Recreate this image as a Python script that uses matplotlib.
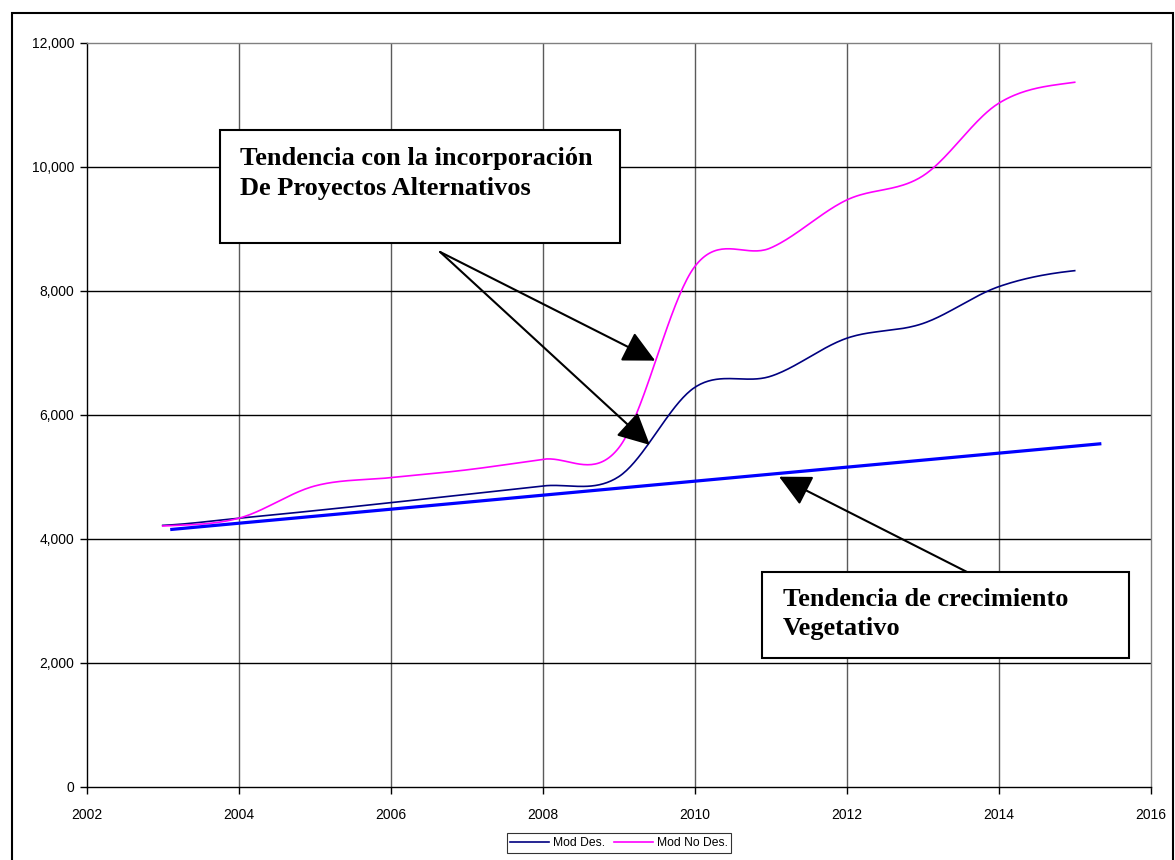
import numpy as np
import matplotlib.pyplot as plt
from matplotlib.patches import Rectangle

years = [2003, 2004, 2005, 2006, 2007, 2008, 2009, 2010, 2011, 2012, 2013, 2014, 2015]
mod_des = [4215, 4330, 4452, 4581, 4716, 4850, 5000, 6440, 6620, 7233, 7470, 8065, 8323]
mod_no_des = [4205, 4330, 4850, 4985, 5110, 5281, 5464, 8388, 8690, 9463, 9850, 11023, 11362]
trend_years = [2003.12, 2015.33]
trend_vals = [4150, 5530]

x_ticks = [2002, 2004, 2006, 2008, 2010, 2012, 2014, 2016]
y_ticks = [0, 2000, 4000, 6000, 8000, 10000, 12000]


def smooth(xs, ys, n=40):
    # catmull-rom like excel smoothed lines
    xs = np.array(xs, dtype=float)
    ys = np.array(ys, dtype=float)
    k = len(xs)
    m = np.zeros(k)
    for i in range(k):
        if i == 0:
            m[i] = (ys[1] - ys[0]) / 2
        elif i == k - 1:
            m[i] = (ys[-1] - ys[-2]) / 2
        else:
            m[i] = (ys[i + 1] - ys[i - 1]) / 2
    outx = []
    outy = []
    for i in range(k - 1):
        t = np.linspace(0, 1, n)
        h00 = 2 * t**3 - 3 * t**2 + 1
        h10 = t**3 - 2 * t**2 + t
        h01 = -2 * t**3 + 3 * t**2
        h11 = t**3 - t**2
        outx.extend(xs[i] + t * (xs[i + 1] - xs[i]))
        outy.extend(h00 * ys[i] + h10 * m[i] + h01 * ys[i + 1] + h11 * m[i + 1])
    return outx, outy


W, H = 1175, 860
fig = plt.figure(figsize=(W / 100, H / 100), dpi=100)
plt.rcParams['font.family'] = ['Liberation Sans', 'DejaVu Sans']


def fx(px):
    return px / W


def fy(py):
    return 1 - py / H


ax = fig.add_axes([fx(86.7), fy(786.7), fx(1150.7) - fx(86.7), fy(42.7) - fy(786.7)])

sx, sy = smooth(years, mod_des)
ax.plot(sx, sy, color='#000080', lw=1.2, label='Mod Des.', zorder=3)
sx, sy = smooth(years, mod_no_des)
ax.plot(sx, sy, color='#FF00FF', lw=1.2, label='Mod No Des.', zorder=3)
ax.plot(trend_years, trend_vals, color='#0000FF', lw=2.3, zorder=3)

ax.set_xlim(2002, 2016)
ax.set_ylim(0, 12000)
ax.set_xticks(x_ticks)
ax.set_yticks(y_ticks)
ax.set_yticklabels(['{:,}'.format(v) for v in y_ticks])
ax.tick_params(labelsize=10, length=5, width=1, direction='out', pad=4)
ax.tick_params(axis='x', pad=10)
for v in x_ticks[1:-1]:
    ax.axvline(v, color='#5a5a5a', lw=1, zorder=1)
for v in y_ticks[1:-1]:
    ax.axhline(v, color='black', lw=1, zorder=1)
ax.spines['top'].set_color('#808080')
ax.spines['right'].set_color('#808080')
for s in ax.spines.values():
    s.set_linewidth(1)

leg = fig.legend(loc='center', bbox_to_anchor=(fx(619), fy(843)), ncol=2, fontsize=8.7,
                 frameon=True, fancybox=False, edgecolor='black', handlelength=3.2,
                 handletextpad=0.3, columnspacing=0.8, borderpad=0.3)
leg.get_frame().set_linewidth(0.8)

# text boxes
fig.patches.append(Rectangle((fx(220), fy(243)), fx(620) - fx(220), fy(130) - fy(243),
                             transform=fig.transFigure, facecolor='white', edgecolor='black',
                             lw=1.5, zorder=5))
fig.text(fx(240), fy(159), 'Tendencia con la incorporación', family='Liberation Serif',
         fontweight='bold', fontsize=19, va='center', zorder=6)
fig.text(fx(240), fy(189), 'De Proyectos Alternativos', family='Liberation Serif',
         fontweight='bold', fontsize=19, va='center', zorder=6)

fig.patches.append(Rectangle((fx(762), fy(658)), fx(1129) - fx(762), fy(572) - fy(658),
                             transform=fig.transFigure, facecolor='white', edgecolor='black',
                             lw=1.5, zorder=5))
fig.text(fx(783), fy(600), 'Tendencia de crecimiento', family='Liberation Serif',
         fontweight='bold', fontsize=19, va='center', zorder=6)
fig.text(fx(783), fy(629), 'Vegetativo', family='Liberation Serif',
         fontweight='bold', fontsize=19, va='center', zorder=6)

# arrows
arrow = dict(arrowstyle='-|>,head_length=0.9,head_width=0.45', color='black', lw=1.5,
             mutation_scale=22, shrinkA=0, shrinkB=0)
ax.annotate('', xy=(2009.48, 6872), xytext=(2006.65, 8625), arrowprops=arrow, zorder=4)
ax.annotate('', xy=(2009.41, 5512), xytext=(2006.65, 8625), arrowprops=arrow, zorder=4)
ax.annotate('', xy=(2011.11, 5000), xytext=(2013.58, 3465), arrowprops=arrow, zorder=4)

# outer border
fig.patches.append(Rectangle((fx(12), fy(875)), fx(1173) - fx(12), fy(12.7) - fy(875),
                             transform=fig.transFigure, facecolor='none', edgecolor='black',
                             lw=1.5, zorder=0))

plt.savefig('out.png', dpi=100)
plt.close()
